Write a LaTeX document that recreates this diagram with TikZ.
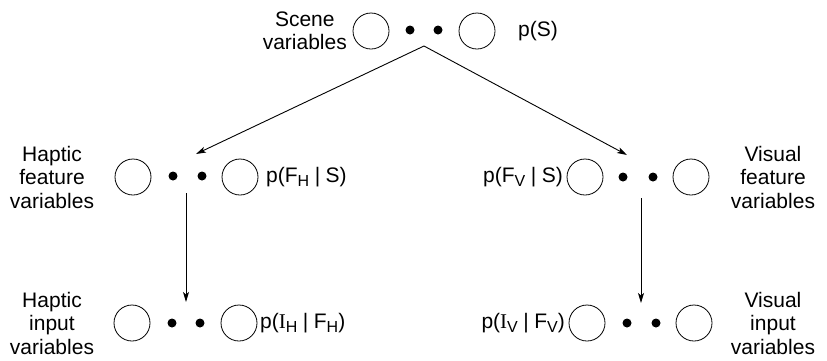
\documentclass[tikz,border=0pt]{standalone}
\usepackage{fontspec}
\setmainfont{Liberation Sans}
\newfontfamily\serifI{Liberation Serif}
\usetikzlibrary{arrows.meta}
\newcommand{\lowsub}[1]{\raisebox{-0.35ex}{\fontsize{16}{16}\selectfont #1}}
\newcommand{\given}{\hspace{5.5pt}|\hspace{5.5pt}}
\tikzset{
  var/.style={circle,draw,line width=0.8pt,minimum size=36pt,inner sep=0pt},
  dotn/.style={circle,fill,minimum size=9pt,inner sep=0pt},
  lbl/.style={font=\fontsize{21}{23.5}\selectfont,inner sep=0pt,align=center},
  arr/.style={line width=0.9pt,-{Stealth[length=10pt,width=6pt,inset=2.5pt]}}
}
\begin{document}
\begin{tikzpicture}[x=1pt,y=-1pt]
\useasboundingbox (0,0) rectangle (827,360);
% top row
\node[var] (s1) at (371,31) {};
\node[dotn] (sd1) at (410,30) {};
\node[dotn] (sd2) at (438,30) {};
\node[var] (s2) at (477,31) {};
\node[lbl,anchor=east] (slab) at (347,31) {Scene\\variables};
\node[lbl,anchor=west] (sp) at (518,31) {p(S)};
% mid left
\node[var] (hf1) at (133,177) {};
\node[dotn] (hfd1) at (173,176) {};
\node[dotn] (hfd2) at (202,176) {};
\node[var] (hf2) at (240,177) {};
\node[lbl] (hflab) at (52,177) {Haptic\\feature\\variables};
\node[lbl,anchor=west] (hfp) at (266,177) {p(F\lowsub{H}\given S)};
% mid right
\node[var] (vf1) at (585,177) {};
\node[dotn] (vfd1) at (623,177) {};
\node[dotn] (vfd2) at (653,177) {};
\node[var] (vf2) at (691,177) {};
\node[lbl] (vflab) at (773,177) {Visual\\feature\\variables};
\node[lbl,anchor=east] (vfp) at (563,177) {p(F\lowsub{V}\given S)};
% bottom left
\node[var] (hi1) at (132,323) {};
\node[dotn] (hid1) at (172,323) {};
\node[dotn] (hid2) at (200,323) {};
\node[var] (hi2) at (239,323) {};
\node[lbl] (hilab) at (52,323) {Haptic\\input\\variables};
\node[lbl,anchor=west] (hip) at (260,323) {p({\serifI I}\lowsub{H}\given F\lowsub{H})};
% bottom right
\node[var] (vi1) at (587,323) {};
\node[dotn] (vid1) at (627,323) {};
\node[dotn] (vid2) at (656,323) {};
\node[var] (vi2) at (694,323) {};
\node[lbl] (vilab) at (773,323) {Visual\\input\\variables};
\node[lbl,anchor=east] (vip) at (565,323) {p({\serifI I}\lowsub{V}\given F\lowsub{V})};
% connectors
\coordinate (apex) at (424,46);
\coordinate (hftip) at (196,154);
\coordinate (vftip) at (627,155);
\coordinate (hfbot) at (186,193);
\coordinate (hitip) at (186,302);
\coordinate (vfbot) at (641,198);
\coordinate (vitip) at (641,303);
\draw[arr] (apex) -- (hftip);
\draw[arr] (apex) -- (vftip);
\draw[arr] (hfbot) -- (hitip);
\draw[arr] (vfbot) -- (vitip);
\end{tikzpicture}
\end{document}
